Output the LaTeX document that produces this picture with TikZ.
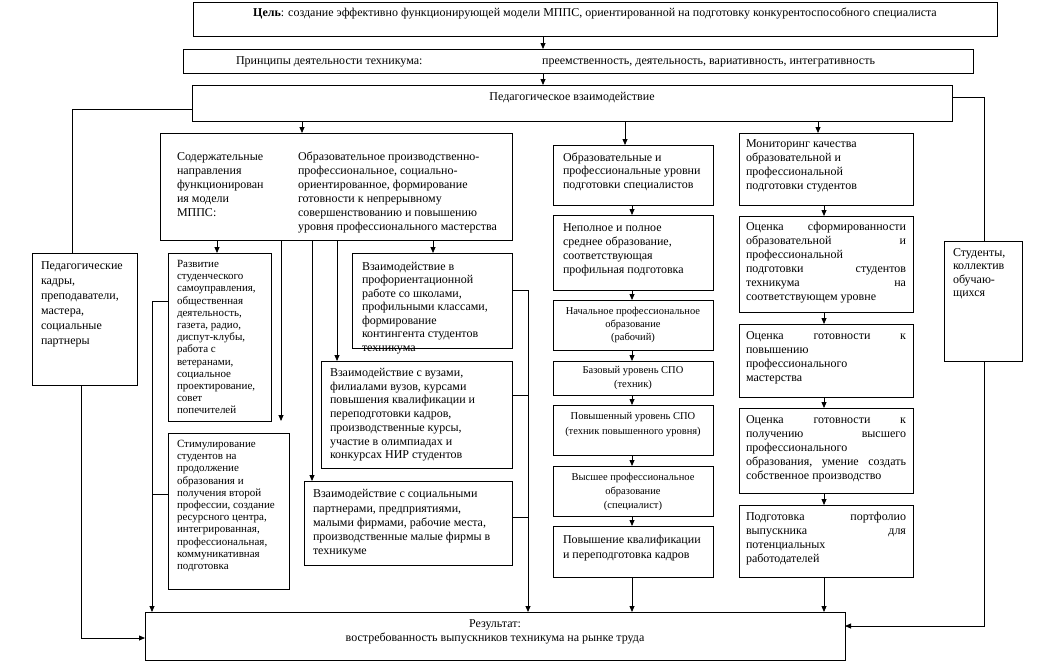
\documentclass[tikz,border=0pt]{standalone}
\usepackage{fontspec}
\setmainfont{Liberation Serif}
\usetikzlibrary{arrows.meta}
\newcommand\fs[2]{\fontsize{#1}{#2}\selectfont}
\newcommand\cell[9]{\node[bx,inner xsep=#6pt,inner ysep=#7pt] (#1) at (#2,#3) {\parbox[t][\dimexpr#5pt-#7pt-#7pt\relax][t]{\dimexpr#4pt-#6pt-#6pt\relax}{#8\strut#9}};}
\begin{document}
\begin{tikzpicture}[x=1pt,y=-1pt,
  bx/.style={draw,line width=0.8pt,anchor=north west,outer sep=0pt},
  ln/.style={line width=0.8pt},
  arr/.style={ln,-{Triangle[length=6pt,width=5pt]}}]
\useasboundingbox (0,0) rectangle (1041,662);
% top
\cell{goal}{193}{2}{804}{34}{6}{5}{\fs{12}{14}\centering}{\textbf{Цель}: создание эффективно функционирующей модели МППС, ориентированной на подготовку конкурентоспособного специалиста}
\cell{princ}{183}{49}{790}{24}{6}{6}{\fs{12}{14}}{\hspace*{47pt}Принципы деятельности техникума:\hfill преемственность, деятельность, вариативность, интегративность\hspace*{92pt}}
\cell{pedint}{192}{85}{760}{36}{6}{6}{\fs{12}{14}\centering}{Педагогическое взаимодействие}
% content box
\cell{center}{160}{133}{352}{107}{10}{18}{\fs{12}{14}}{\hspace*{7pt}\parbox[t]{121pt}{\raggedright Содержательные\\направления\\функционирован\\ия модели\\МППС:}\parbox[t]{200pt}{\raggedright Образовательное производственно-\\профессиональное, социально-\\ориентированное, формирование\\готовности к непрерывному\\совершенствованию и повышению\\уровня профессионального мастерства}}
% sides
\cell{pedk}{32}{253}{105}{132}{9}{6}{\fs{12}{15}\raggedright}{Педагогические\\кадры,\\преподаватели,\\мастера,\\социальные\\партнеры}
\cell{stud}{944}{241}{78}{120}{9}{6}{\fs{12}{13.5}\raggedright}{Студенты,\\коллектив\\обучаю-\\щихся}
% column 2
\cell{razv}{168}{253}{103}{168}{9}{6}{\fs{11}{12.2}\raggedright}{Развитие\\студенческого\\самоуправления,\\общественная\\деятельность,\\газета, радио,\\диспут-клубы,\\работа с\\ветеранами,\\социальное\\проектирование,\\совет\\попечителей}
\cell{stim}{168}{433}{121}{156}{9}{6}{\fs{11}{12.2}\raggedright}{Стимулирование\\студентов на\\продолжение\\образования и\\получения второй\\профессии, создание\\ресурсного центра,\\интегрированная,\\профессиональная,\\коммуникативная\\подготовка}
\cell{prof}{352}{253}{160}{95}{10}{8}{\fs{12}{13.5}\raggedright}{Взаимодействие в\\профориентационной\\работе со школами,\\профильными классами,\\формирование\\контингента студентов\\техникума}
\cell{vuz}{321}{361}{191}{107}{9}{6}{\fs{12}{13.7}\raggedright}{Взаимодействие с вузами,\\филиалами вузов, курсами\\повышения квалификации и\\переподготовки кадров,\\производственные курсы,\\участие в олимпиадах и\\конкурсах НИР студентов}
\cell{soc}{304}{481}{208}{84}{9}{7}{\fs{12}{14.2}\raggedright}{Взаимодействие с социальными\\партнерами, предприятиями,\\малыми фирмами, рабочие места,\\производственные малые фирмы в\\техникуме}
% column 3
\cell{obr}{553}{145}{160}{60}{10}{7}{\fs{12}{13.5}\raggedright}{Образовательные и\\профессиональные уровни\\подготовки специалистов}
\cell{nep}{553}{215}{160}{75}{10}{7}{\fs{12}{14}\raggedright}{Неполное и полное\\среднее образование,\\соответствующая\\профильная подготовка}
\cell{nach}{553}{300}{160}{50}{6}{5}{\fs{10.5}{13}\centering}{Начальное профессиональное\\образование\\(рабочий)}
\cell{baz}{553}{361}{160}{34}{6}{3}{\fs{10.5}{14}\centering}{Базовый уровень СПО\\(техник)}
\cell{povs}{553}{405}{160}{50}{6}{4}{\fs{10.5}{15}\centering}{Повышенный уровень СПО\\(техник повышенного уровня)}
\cell{vys}{553}{466}{160}{50}{6}{5}{\fs{10.5}{14}\centering}{Высшее профессиональное\\образование\\(специалист)}
\cell{pkv}{553}{526}{160}{51}{10}{7}{\fs{12}{15}\raggedright}{Повышение квалификации\\и переподготовка кадров}
% column 4
\cell{mon}{739}{133}{174}{72}{7}{5}{\fs{12}{14}\raggedright}{Мониторинг качества\\образовательной и\\профессиональной\\подготовки студентов}
\cell{oc1}{739}{216}{174}{96}{7}{5}{\fs{12}{14}\raggedright}{Оценка\hfill сформированности\\образовательной\hfill и\\профессиональной\\подготовки\hfill студентов\\техникума\hfill на\\соответствующем уровне}
\cell{oc2}{739}{324}{174}{73}{7}{6}{\fs{12}{14}\raggedright}{Оценка\hfill готовности\hfill к\\повышению\\профессионального\\мастерства}
\cell{oc3}{739}{408}{174}{85}{7}{6}{\fs{12}{14}\raggedright}{Оценка\hfill готовности\hfill к\\получению\hfill высшего\\профессионального\\образования,\hfill умение\hfill создать\\собственное производство}
\cell{port}{739}{505}{174}{72}{7}{6}{\fs{12}{14}\raggedright}{Подготовка\hfill портфолио\\выпускника\hfill для\\потенциальных\\работодателей}
% result
\cell{res}{145}{612}{700}{48}{6}{6}{\fs{12}{14}\centering}{Результат:\\востребованность выпускников техникума на рынке труда}
% connectors
\draw[arr] (goal.south -| 543,0) -- (princ.north -| 543,0);
\draw[arr] (princ.south -| 543,0) -- (pedint.north -| 543,0);
\draw[arr] (pedint.south -| 302,0) -- (center.north -| 302,0);
\draw[arr] (pedint.south -| 625,0) -- (obr.north -| 625,0);
\draw[arr] (pedint.south -| 818,0) -- (mon.north -| 818,0);
\draw[ln] (pedint.west |- 0,109) -| (pedk.north -| 72,0);
\draw[ln] (pedint.east |- 0,97) -| (stud.north -| 984,0);
\draw[arr] (pedk.south -| 81,0) |- (res.west |- 0,638);
\draw[arr] (stud.south -| 984,0) |- (res.east |- 0,626);
\draw[arr] (center.south -| 217,0) -- (razv.north -| 217,0);
\coordinate (f281) at (281,421);
\draw[arr] (center.south -| 281,0) -- (f281);
\draw[arr] (center.south -| 312,0) -- (soc.north -| 312,0);
\draw[arr] (center.south -| 337,0) -- (vuz.north -| 337,0);
\draw[arr] (center.south -| 433,0) -- (prof.north -| 433,0);
\draw[arr] (razv.west |- 0,301) -| (res.north -| 152,0);
\coordinate (lb) at (152,494);
\draw[ln] (stim.west |- 0,494) -- (lb);
\draw[arr] (prof.east |- 0,290) -| (res.north -| 528,0);
\coordinate (rb1) at (528,395);
\draw[ln] (vuz.east |- 0,395) -- (rb1);
\coordinate (rb2) at (528,517);
\draw[ln] (soc.east |- 0,517) -- (rb2);
\foreach \a/\b in {obr/nep,nep/nach,nach/baz,baz/povs,povs/vys,vys/pkv}
  \draw[arr] (\a.south -| 632,0) -- (\b.north -| 632,0);
\draw[arr] (pkv.south -| 632,0) -- (res.north -| 632,0);
\foreach \a/\b in {mon/oc1,oc1/oc2,oc2/oc3,oc3/port}
  \draw[arr] (\a.south -| 824,0) -- (\b.north -| 824,0);
\draw[arr] (port.south -| 824,0) -- (res.north -| 824,0);
\end{tikzpicture}
\end{document}
